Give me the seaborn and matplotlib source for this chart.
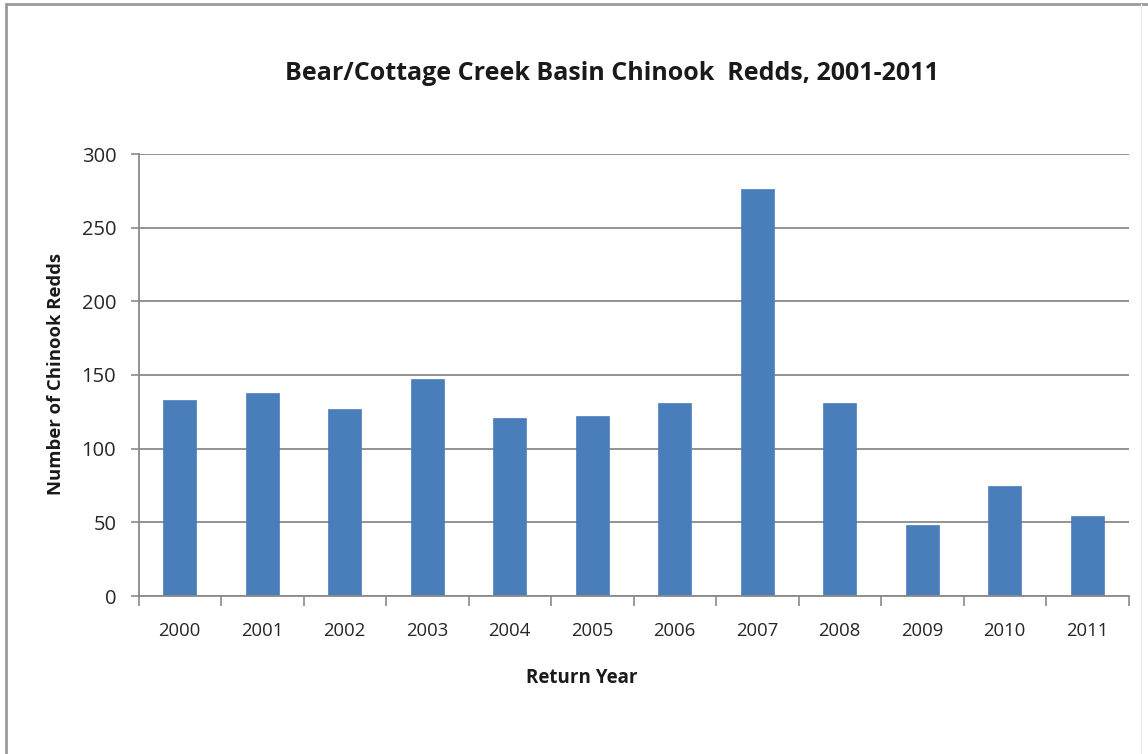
import matplotlib
matplotlib.use("Agg")
import matplotlib.pyplot as plt
import seaborn as sns
import pandas as pd
from matplotlib.lines import Line2D

years = ["2000", "2001", "2002", "2003", "2004", "2005", "2006", "2007", "2008", "2009", "2010", "2011"]
redds = [133, 138, 127, 147, 121, 122, 131, 276, 131, 48, 75, 54]
y_ticks = [0, 50, 100, 150, 200, 250, 300]

title = "Bear/Cottage Creek Basin Chinook  Redds, 2001-2011"
xlabel = "Return Year"
ylabel = "Number of Chinook Redds"

sns.set_theme(style="white")
plt.rcParams['font.family'] = ['Open Sans', 'DejaVu Sans']

W, H = 1148, 754
fig = plt.figure(figsize=(W / 100, H / 100), dpi=100)
ax = fig.add_axes([138.5 / W, 1 - 596 / H, 990 / W, 442 / H])

df = pd.DataFrame({"year": years, "redds": redds})
sns.barplot(data=df, x="year", y="redds", color="#4A7EBB", saturation=1,
            width=0.4, ax=ax, edgecolor="#4A7EBB", linewidth=0.5)

ax.set_ylim(0, 300)
ax.set_yticks(y_ticks)
ax.set_xlim(-0.5, len(years) - 0.5)
ax.yaxis.grid(True, color="#8a8a8a", linewidth=1.3)
ax.set_axisbelow(True)
for s in ["top", "right"]:
    ax.spines[s].set_visible(False)
for s in ["left", "bottom"]:
    ax.spines[s].set_color("#8a8a8a")
    ax.spines[s].set_linewidth(1.3)

# x ticks at category boundaries
ax.set_xticks([i + 0.5 for i in range(-1, len(years))], minor=True)
ax.tick_params(axis="x", which="minor", length=7, width=1.2, color="#8a8a8a", direction="out", bottom=True)
ax.tick_params(axis="x", which="major", length=0, labelsize=13.3, labelcolor="#262626", pad=19)
ax.tick_params(axis="y", which="major", length=6, width=1.2, color="#8a8a8a", direction="out", left=True,
               labelsize=14.5, labelcolor="#262626", pad=10)

ax.set_xlabel("")
ax.set_ylabel("")

fig.text(612 / W, 1 - 74 / H, title, ha="center", va="center", fontsize=18, fontweight="bold", color="#1a1a1a")
fig.text(582 / W, 1 - 678 / H, xlabel, ha="center", va="center", fontsize=13.5, fontweight="bold", color="#1a1a1a")
fig.text(56 / W, 1 - 374 / H, ylabel, ha="center", va="center", rotation=90, fontsize=13.3, fontweight="bold",
         color="#1a1a1a")

# outer chart frame
fig.add_artist(Line2D([6 / W, 6 / W], [0, 1 - 4 / H], transform=fig.transFigure, color="#9a9a9a", linewidth=2))
fig.add_artist(Line2D([6 / W, 1], [1 - 4 / H, 1 - 4 / H], transform=fig.transFigure, color="#9a9a9a", linewidth=2))
fig.add_artist(Line2D([1141 / W, 1141 / W], [0, 1 - 4 / H], transform=fig.transFigure, color="#ececec", linewidth=1))

fig.savefig("out.png", dpi=100, facecolor="white")
